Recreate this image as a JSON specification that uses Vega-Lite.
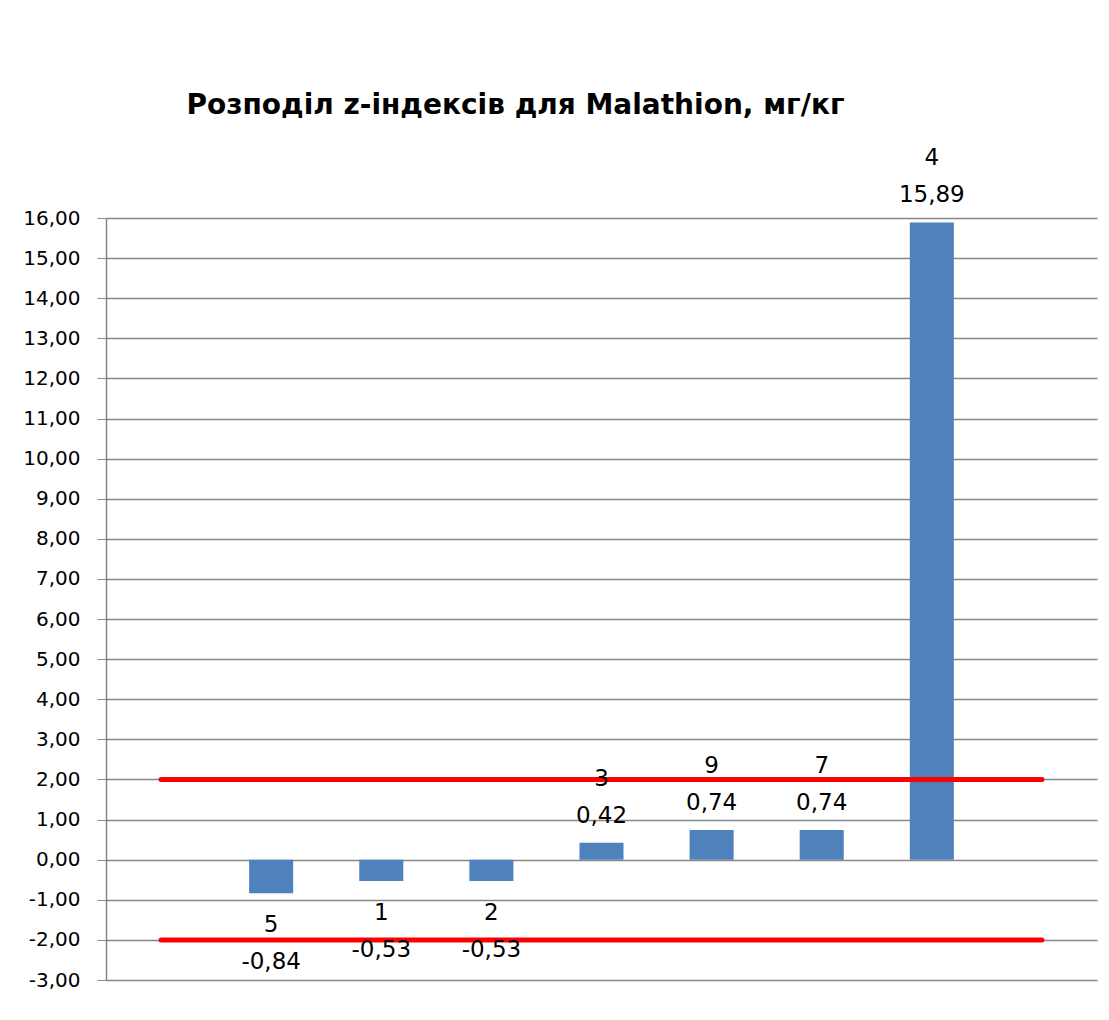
{
  "$schema": "https://vega.github.io/schema/vega-lite/v6.json",
  "width": 991,
  "height": 762,
  "autosize": {"type": "none"},
  "padding": {"left": 106, "top": 218, "right": 12, "bottom": 40},
  "background": "white",
  "title": {
    "text": "Розподіл z-індексів для  Malathion, мг/кг",
    "anchor": "middle",
    "dx": -86,
    "offset": 27,
    "font": "DejaVu Sans",
    "fontSize": 28,
    "fontWeight": "bold",
    "color": "black"
  },
  "config": {"view": {"stroke": null}},
  "datasets": {
    "bars": [
      {"slot": "5", "lab": "5", "z": -0.84},
      {"slot": "1", "lab": "1", "z": -0.53},
      {"slot": "2", "lab": "2", "z": -0.53},
      {"slot": "3", "lab": "3", "z": 0.42},
      {"slot": "9", "lab": "9", "z": 0.74},
      {"slot": "7", "lab": "7", "z": 0.74},
      {"slot": "4", "lab": "4", "z": 15.89}
    ],
    "limits": [
      {"slot": "s0", "level": 2, "band": "upper"},
      {"slot": "s8", "level": 2, "band": "upper"},
      {"slot": "s0", "level": -2, "band": "lower"},
      {"slot": "s8", "level": -2, "band": "lower"}
    ]
  },
  "encoding": {
    "x": {
      "field": "slot",
      "type": "nominal",
      "sort": null,
      "scale": {"domain": ["s0", "5", "1", "2", "3", "9", "7", "4", "s8"], "paddingInner": 0.6, "paddingOuter": 0.3},
      "axis": null
    }
  },
  "layer": [
    {
      "data": {"name": "bars"},
      "mark": {"type": "bar", "color": "#4F81BD"},
      "encoding": {
        "y": {
          "field": "z",
          "type": "quantitative",
          "scale": {"domain": [-3, 16], "nice": false, "zero": false},
          "axis": {
            "title": null,
            "values": [-3, -2, -1, 0, 1, 2, 3, 4, 5, 6, 7, 8, 9, 10, 11, 12, 13, 14, 15, 16],
            "labelExpr": "replace(replace(format(datum.value, '.2f'), '.', ','), '\u2212', '-')",
            "labelFont": "DejaVu Sans",
            "labelFontSize": 20,
            "labelColor": "black",
            "labelPadding": 17,
            "tickSize": 9,
            "tickColor": "#888888",
            "domainColor": "#888888",
            "domainWidth": 1.5,
            "gridColor": "#888888",
            "gridWidth": 1.5,
            "grid": true
          }
        },
        "y2": {"datum": 0}
      }
    },
    {
      "data": {"name": "limits"},
      "mark": {"type": "line", "color": "#FF0000", "strokeWidth": 5, "strokeCap": "round"},
      "encoding": {
        "y": {"field": "level", "type": "quantitative"},
        "detail": {"field": "band"}
      }
    },
    {
      "data": {"name": "bars"},
      "transform": [
        {"filter": "datum.z >= 0"},
        {"calculate": "[datum.lab, replace(replace(format(datum.z, '.2f'), '.', ','), '\u2212', '-')]", "as": "label"}
      ],
      "mark": {"type": "text", "font": "DejaVu Sans", "fontSize": 23, "color": "black", "baseline": "bottom", "dy": -52, "lineHeight": 37},
      "encoding": {
        "y": {"field": "z", "type": "quantitative"},
        "text": {"field": "label"}
      }
    },
    {
      "data": {"name": "bars"},
      "transform": [
        {"filter": "datum.z < 0"},
        {"calculate": "[datum.lab, replace(replace(format(datum.z, '.2f'), '.', ','), '\u2212', '-')]", "as": "label"}
      ],
      "mark": {"type": "text", "font": "DejaVu Sans", "fontSize": 23, "color": "black", "baseline": "top", "dy": 21, "lineHeight": 37},
      "encoding": {
        "y": {"field": "z", "type": "quantitative"},
        "text": {"field": "label"}
      }
    }
  ]
}
